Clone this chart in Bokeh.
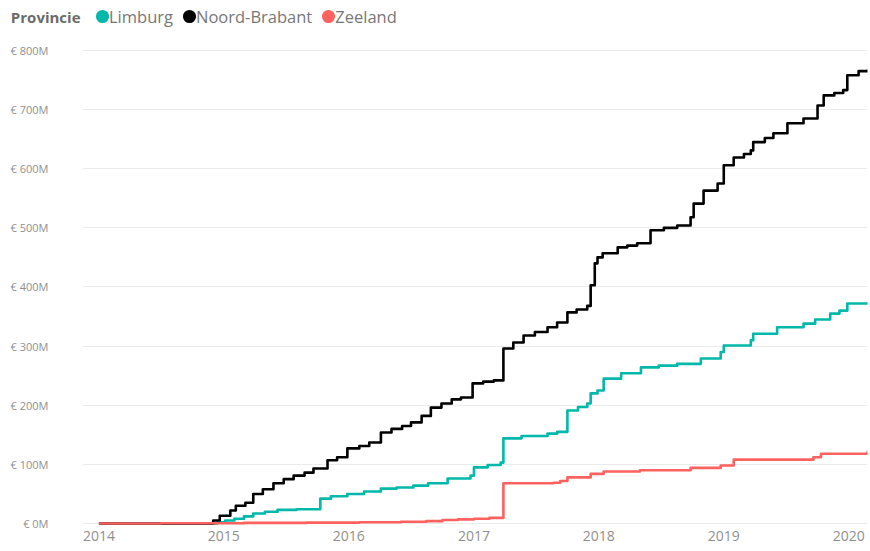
import pandas as pd
from bokeh.plotting import figure
from bokeh.layouts import column
from bokeh.models import (Range1d, FixedTicker, DatetimeTickFormatter, PrintfTickFormatter,
                          Legend, LegendItem)
from bokeh.embed import file_html
from bokeh.resources import INLINE

# ---------------- data (cumulative amounts, millions of euro) ----------------
provinces = ["Limburg", "Noord-Brabant", "Zeeland"]
colors = ["#01B8AA", "#000000", "#FD625E"]
legend_title = "Provincie"

limburg_dates = ["2014-01-01", "2014-12-13", "2015-01-05", "2015-02-01", "2015-03-01", "2015-03-28",
                 "2015-05-01", "2015-06-07", "2015-08-01", "2015-10-10", "2015-11-10", "2015-12-28",
                 "2016-02-15", "2016-04-04", "2016-05-20", "2016-07-08", "2016-08-20", "2016-10-16",
                 "2016-12-22", "2017-01-01", "2017-02-10", "2017-03-20", "2017-03-28", "2017-05-20",
                 "2017-08-04", "2017-09-01", "2017-10-01", "2017-11-01", "2017-11-28", "2017-12-08",
                 "2017-12-28", "2018-01-15", "2018-03-07", "2018-05-04", "2018-06-25", "2018-08-18",
                 "2018-10-26", "2018-12-23", "2019-01-01", "2019-03-21", "2019-03-28", "2019-06-06",
                 "2019-08-22", "2019-09-25", "2019-11-08", "2019-12-05", "2019-12-28", "2020-02-25"]
limburg_values = [0, 2, 5, 8, 12, 17, 20, 23, 24, 42, 46, 50, 54, 59, 61, 64, 68, 76, 81, 95,
                  99, 103, 144, 148, 152, 155, 191, 197, 203, 220, 225, 245, 254, 264, 267, 270,
                  279, 290, 301, 310, 321, 332, 338, 345, 355, 360, 372, 374]

brabant_dates = ["2014-01-01", "2014-12-01", "2014-12-20", "2015-01-20", "2015-02-05", "2015-03-05",
                 "2015-03-28", "2015-04-25", "2015-05-26", "2015-06-25", "2015-07-24", "2015-08-25",
                 "2015-09-20", "2015-10-31", "2015-11-28", "2015-12-28", "2016-02-01", "2016-03-01",
                 "2016-04-04", "2016-05-05", "2016-06-05", "2016-07-01", "2016-08-01", "2016-08-28",
                 "2016-09-28", "2016-10-28", "2016-11-24", "2016-12-28", "2017-01-28", "2017-02-28",
                 "2017-03-28", "2017-04-26", "2017-05-26", "2017-06-28", "2017-08-04", "2017-09-01",
                 "2017-10-01", "2017-10-28", "2017-11-28", "2017-12-08", "2017-12-20", "2017-12-28",
                 "2018-01-12", "2018-02-25", "2018-03-25", "2018-04-23", "2018-06-01", "2018-07-10",
                 "2018-08-18", "2018-09-26", "2018-10-05", "2018-11-03", "2018-12-14", "2019-01-01",
                 "2019-01-30", "2019-03-01", "2019-03-21", "2019-03-28", "2019-05-01", "2019-05-26",
                 "2019-07-06", "2019-08-22", "2019-10-02", "2019-10-20", "2019-11-20", "2019-12-16",
                 "2019-12-28", "2020-01-30", "2020-02-25"]
brabant_values = [0, 5, 13, 22, 30, 35, 50, 58, 68, 75, 81, 86, 93, 107, 112, 127, 131, 137, 154, 160,
                  165, 171, 182, 196, 203, 210, 213, 237, 240, 242, 296, 306, 318, 324, 332, 340,
                  357, 362, 368, 403, 440, 450, 457, 467, 470, 474, 496, 500, 504, 518, 541, 563,
                  575, 606, 619, 625, 631, 645, 652, 660, 677, 685, 707, 724, 728, 733, 758, 765, 768]

zeeland_dates = ["2014-01-01", "2014-07-01", "2015-03-01", "2015-09-01", "2016-02-01", "2016-06-01",
                 "2016-08-15", "2016-10-01", "2016-11-15", "2017-01-01", "2017-02-15", "2017-03-28",
                 "2017-08-22", "2017-09-10", "2017-10-01", "2017-12-08", "2018-01-15", "2018-05-01",
                 "2018-09-26", "2018-12-23", "2019-01-30", "2019-09-20", "2019-10-12", "2020-02-25"]
zeeland_values = [0, 0.5, 1, 1.5, 2, 3, 4, 6, 7, 8, 9.5, 68, 69, 72, 78, 84, 88, 90, 94, 98,
                  108, 112, 118, 122]

year_labels = ["2014", "2015", "2016", "2017", "2018", "2019", "2020"]
y_ticks = [0, 100, 200, 300, 400, 500, 600, 700, 800]

series_dates = [limburg_dates, brabant_dates, zeeland_dates]
series_values = [limburg_values, brabant_values, zeeland_values]

FONT = "Open Sans"

# ---------------- header strip: legend title (as axis label) + legend ----------------
head = figure(width=870, height=32, output_backend="svg", toolbar_location=None,
              x_axis_location=None, min_border_left=0, min_border_right=0,
              min_border_top=0, min_border_bottom=0,
              x_range=Range1d(0, 1), y_range=Range1d(0, 1))
head.grid.visible = False
head.outline_line_color = None
head.background_fill_color = "white"
head.border_fill_color = "white"
hy = head.yaxis[0]
hy.ticker = FixedTicker(ticks=[0.5])
hy.major_label_overrides = {0.5: legend_title}
hy.axis_line_color = None
hy.major_tick_line_color = None
hy.minor_tick_line_color = None
hy.major_tick_out = 0
hy.major_tick_in = 0
hy.major_label_standoff = 2
hy.major_label_text_font = FONT
hy.major_label_text_font_size = "15px"
hy.major_label_text_font_style = "bold"
hy.major_label_text_color = "#6b6b6b"

# legend proxies: filled circle markers with a thick outline, placed outside the visible range
proxies = [head.scatter(x=[-5], y=[-5], marker="circle", size=6, fill_color=c,
                        line_color=c, line_width=7.5)
           for c in colors]
legend = Legend(items=[LegendItem(label=n, renderers=[m]) for n, m in zip(provinces, proxies)],
                orientation="horizontal", padding=0, margin=0, location=(13, 0),
                glyph_width=14, glyph_height=32, label_standoff=0, spacing=9,
                border_line_color=None, background_fill_alpha=0,
                label_text_font=FONT, label_text_font_size="16.5px", label_text_color="#777777")
head.add_layout(legend)

# ---------------- main chart ----------------
p = figure(width=870, height=519, x_axis_type="datetime", output_backend="svg",
           toolbar_location=None, min_border_left=82, min_border_right=3,
           min_border_top=0, min_border_bottom=26)
p.x_range = Range1d(pd.Timestamp("2013-11-14"), pd.Timestamp("2020-02-25"))
p.y_range = Range1d(-3.38, 830.4)
p.outline_line_color = None
p.background_fill_color = "white"
p.border_fill_color = "white"

for dates, vals, col in zip(series_dates, series_values, colors):
    p.step(x=pd.to_datetime(dates), y=vals, mode="after", line_width=2.6,
           line_color=col, line_join="round")

year_ms = [pd.Timestamp(f"{y}-01-01").value // 10**6 for y in year_labels]
p.xaxis.ticker = FixedTicker(ticks=year_ms)
fmt = "%Y"
p.xaxis.formatter = DatetimeTickFormatter(years=fmt, months=fmt, days=fmt, hours=fmt,
                                          hourmin=fmt, minutes=fmt, minsec=fmt, seconds=fmt,
                                          milliseconds=fmt, microseconds=fmt)
p.yaxis.ticker = FixedTicker(ticks=y_ticks)
p.yaxis.formatter = PrintfTickFormatter(format="€ %dM")

for ax in (p.xaxis[0], p.yaxis[0]):
    ax.axis_line_color = None
    ax.major_tick_line_color = None
    ax.minor_tick_line_color = None
    ax.major_tick_out = 0
    ax.major_tick_in = 0
    ax.major_label_text_font = FONT
    ax.major_label_text_color = "#8f8f8f"

p.yaxis.major_label_text_font_size = "11px"
p.yaxis.major_label_standoff = 34
p.xaxis.major_label_text_font_size = "14px"
p.xaxis.major_label_standoff = 5

p.xgrid.visible = False
p.ygrid.ticker = FixedTicker(ticks=y_ticks)
p.ygrid.grid_line_color = "#ebebeb"
p.ygrid.grid_line_width = 1

open("out.html", "w").write(file_html(column(head, p, spacing=0), INLINE))
